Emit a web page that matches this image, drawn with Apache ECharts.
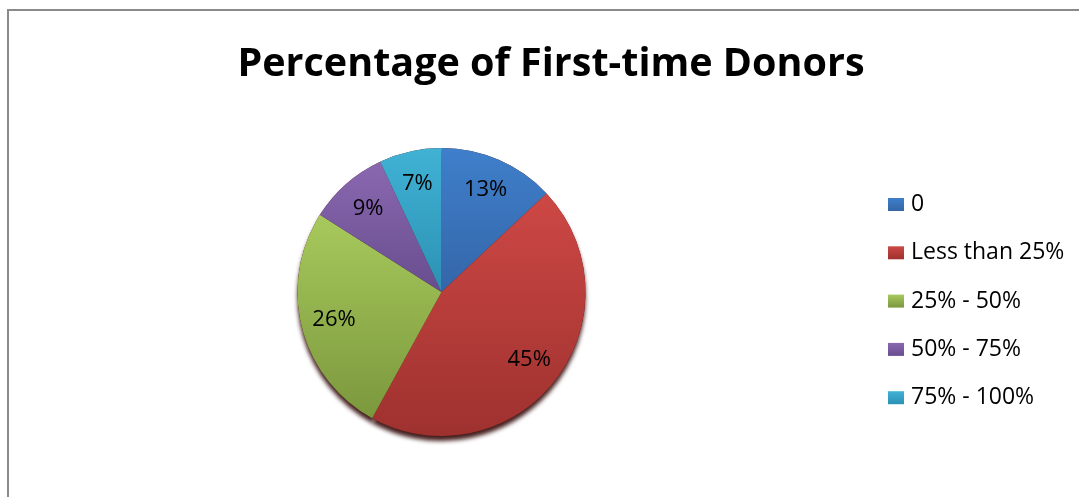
<!DOCTYPE html>
<html>
<head>
<meta charset="utf-8">
<script src="https://cdn.jsdelivr.net/npm/echarts@6/dist/echarts.min.js"></script>
<style>
  html, body { margin: 0; padding: 0; background: #fff; overflow: hidden; }
  #chart { position: absolute; left: 0; top: 0; width: 1079px; height: 497px; }
  #frame { position: absolute; left: 7px; top: 9px; width: 1200px; height: 600px;
           border-left: 2px solid #8a8a8a; border-top: 2px solid #8a8a8a; pointer-events: none; }
</style>
</head>
<body>
<div id="chart"></div>
<div id="frame"></div>
<script>
// Share of donors who were giving for the first time
const titleText = 'Percentage of First-time Donors';
const categories = ['0', 'Less than 25%', '25% - 50%', '50% - 75%', '75% - 100%'];
const shares = [13, 45, 26, 9, 7];

// Office-style two-tone fills (lighter top, darker bottom)
const palette = [
  ['#3f7fcb', '#3466a8'],
  ['#cd4845', '#9e312e'],
  ['#a7c95c', '#7b983d'],
  ['#8a68b1', '#684d8e'],
  ['#40b2d4', '#2c91b4']
];

function shade(pair) {
  return {
    type: 'linear', x: 0, y: 0, x2: 0, y2: 1,
    colorStops: [{ offset: 0, color: pair[0] }, { offset: 1, color: pair[1] }]
  };
}

const FONT = '"Open Sans", "Liberation Sans", sans-serif';
const CENTER = [441.5, 292];
const R = 144;

const chart = echarts.init(document.getElementById('chart'), null, { renderer: 'canvas' });

const sliceData = categories.map((name, i) => ({
  name: name,
  value: shares[i],
  itemStyle: { color: shade(palette[i]) }
}));

chart.setOption({
  animation: false,
  backgroundColor: '#ffffff',
  title: {
    text: titleText,
    left: 546,
    textAlign: 'center',
    top: 37,
    textStyle: { fontFamily: FONT, fontWeight: 'bold', fontSize: 39.5, color: '#000', lineHeight: 45 }
  },
  legend: {
    orient: 'vertical',
    left: 883,
    top: 188,
    itemWidth: 16,
    itemHeight: 13,
    itemGap: 25.3,
    icon: 'rect',
    selectedMode: false,
    data: categories,
    textStyle: { fontFamily: FONT, fontSize: 23, color: '#000', lineHeight: 23, padding: [0, 0, 0, 2] }
  },
  series: [
    {
      // visible slices
      name: 'slices',
      type: 'pie',
      z: 3,
      center: CENTER,
      radius: [0, R],
      startAngle: 90,
      clockwise: true,
      silent: true,
      label: { show: false },
      labelLine: { show: false },
      itemStyle: { borderWidth: 0 },
      emphasis: { disabled: true },
      data: sliceData
    },
    {
      // dark rim and soft shadow beneath the disc
      name: 'rim',
      type: 'pie',
      z: 1,
      center: CENTER,
      radius: [0, R],
      startAngle: 90,
      clockwise: true,
      silent: true,
      label: { show: false },
      labelLine: { show: false },
      emphasis: { disabled: true },
      itemStyle: {
        color: '#4e1412',
        borderWidth: 0,
        shadowColor: 'rgba(50,8,8,0.9)',
        shadowBlur: 4,
        shadowOffsetY: 5
      },
      data: categories.map((name, i) => ({ name: name, value: shares[i] }))
    },
    {
      // percentage labels, placed about three quarters of the way out
      name: 'labels',
      type: 'pie',
      z: 4,
      center: CENTER,
      radius: [0, R * 1.5],
      startAngle: 90,
      clockwise: true,
      silent: true,
      itemStyle: { color: 'rgba(0,0,0,0)' },
      emphasis: { disabled: true },
      labelLine: { show: false },
      label: {
        show: true,
        position: 'inside',
        formatter: p => p.value + '%',
        fontFamily: FONT,
        fontSize: 22,
        color: '#000'
      },
      data: categories.map((name, i) => ({ name: name, value: shares[i] }))
    }
  ]
});
</script>
</body>
</html>
